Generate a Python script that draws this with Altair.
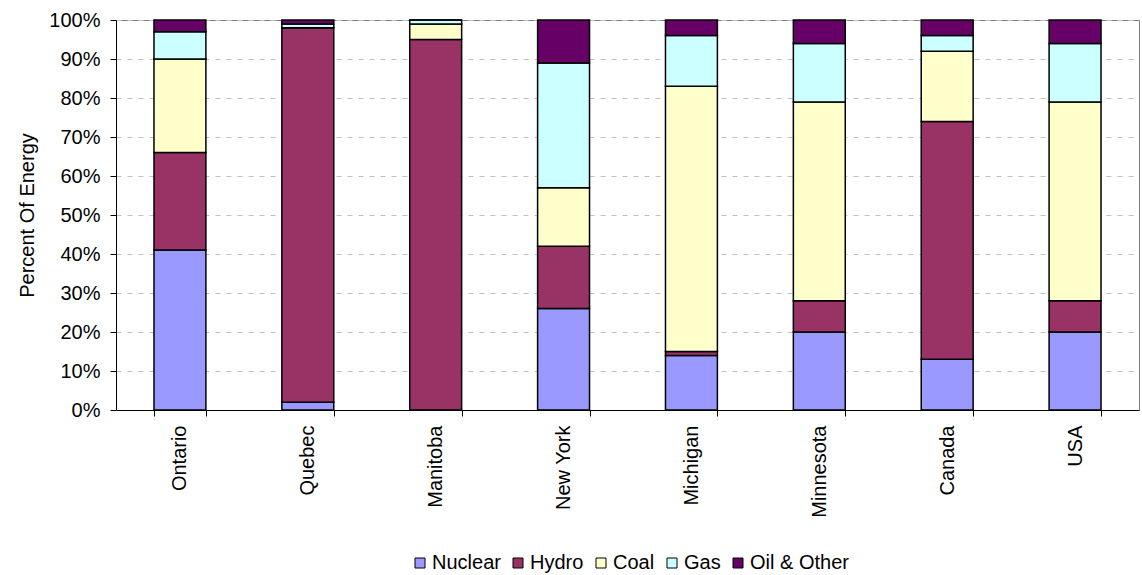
import altair as alt
import pandas as pd

regions = ["Ontario", "Quebec", "Manitoba", "New York", "Michigan", "Minnesota", "Canada", "USA"]
sources = ["Nuclear", "Hydro", "Coal", "Gas", "Oil & Other"]
colors = ["#9999FF", "#993366", "#FFFFCC", "#CCFFFF", "#660066"]

nuclear = [41, 2, 0, 26, 14, 20, 13, 20]
hydro = [25, 96, 95, 16, 1, 8, 61, 8]
coal = [24, 0, 4, 15, 68, 51, 18, 51]
gas = [7, 1, 1, 32, 13, 15, 4, 15]
oil_other = [3, 1, 0, 11, 4, 6, 4, 6]

series = [nuclear, hydro, coal, gas, oil_other]
rows = []
for si, (src, vals) in enumerate(zip(sources, series)):
    for r, v in zip(regions, vals):
        rows.append({"Region": r, "Source": src, "Value": v, "order": si})
df = pd.DataFrame(rows)

FONT = "Liberation Sans"
FS = 20

chart = alt.Chart(df).mark_bar(stroke="black", strokeWidth=1.5).encode(
    x=alt.X("Region:N", sort=regions,
            scale=alt.Scale(paddingInner=0.594, paddingOuter=0.297),
            axis=alt.Axis(title=None, labelAngle=-90, labelAlign="right", labelBaseline="middle",
                          labelFontSize=FS, labelFont=FONT, labelColor="black",
                          labelPadding=9, tickBand="extent", ticks=True, tickSize=6,
                          tickColor="black", domainColor="black", grid=False)),
    y=alt.Y("Value:Q", stack="normalize",
            scale=alt.Scale(domain=[0, 1], nice=False),
            axis=alt.Axis(title="Percent Of Energy", format="%", values=[i / 10 for i in range(11)],
                          labelFontSize=FS, labelFont=FONT, labelColor="black",
                          titleFontSize=FS, titleFont=FONT, titleFontWeight="normal",
                          titleColor="black", titlePadding=11, labelPadding=10,
                          tickSize=6, tickColor="black", domainColor="black",
                          grid=True, gridColor="#c0c0c0", gridDash=[5, 6], gridWidth=1)),
    color=alt.Color("Source:N", sort=sources,
                    scale=alt.Scale(domain=sources, range=colors),
                    legend=alt.Legend(title=None, orient="none", direction="horizontal",
                                      legendX=294, legendY=533,
                                      symbolType="square", symbolSize=100,
                                      symbolStrokeColor="black", symbolStrokeWidth=1,
                                      labelFontSize=FS, labelFont=FONT,
                                      labelColor="black", columnPadding=7, labelOffset=2)),
    order=alt.Order("order:Q", sort="ascending"),
).properties(
    width=1023, height=390,
    autosize=alt.AutoSizeParams(type="none"),
    padding={"left": 116, "top": 20, "right": 3, "bottom": 165},
).configure_view(stroke="#808080", strokeWidth=1)

chart.save("out.html", embed_options={"renderer": "svg", "actions": False})
